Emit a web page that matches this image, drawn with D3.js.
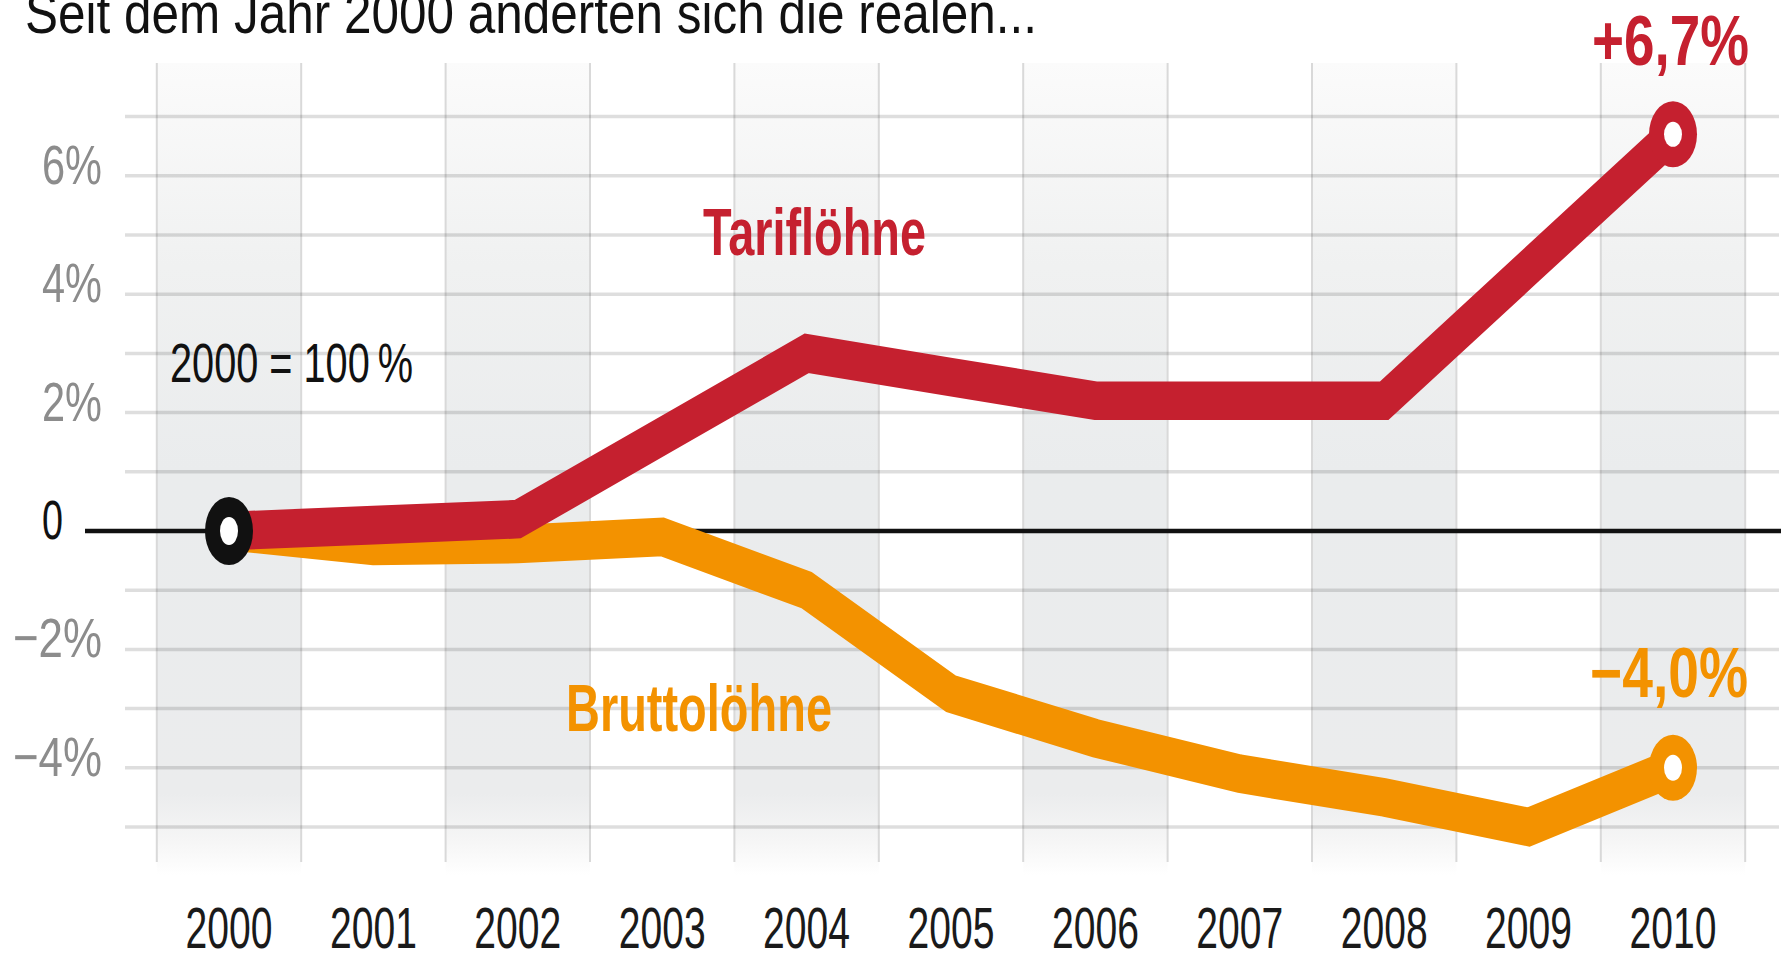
<!DOCTYPE html>
<html>
<head>
<meta charset="utf-8">
<script src="https://cdn.jsdelivr.net/npm/d3@7"></script>
<style>
  html, body { margin: 0; padding: 0; background: #fff; overflow: hidden; }
  svg text { font-family: "Liberation Sans", Arial, sans-serif; }
</style>
</head>
<body>
<div id="chart"></div>
<script>
// --- data ---
const years = [2000, 2001, 2002, 2003, 2004, 2005, 2006, 2007, 2008, 2009, 2010];
const tarifloehne = [0, 0.1, 0.2, 1.6, 3.0, 2.6, 2.2, 2.2, 2.2, 4.45, 6.7];
const bruttoloehne = [0, -0.25, -0.22, -0.1, -1.0, -2.75, -3.5, -4.1, -4.5, -5.0, -4.0];
const gridValues = [-5, -4, -3, -2, -1, 1, 2, 3, 4, 5, 6, 7];
const tickValues = [6, 4, 2, 0, -2, -4];
const tickLabels = ["6%", "4%", "2%", "0", "\u22122%", "\u22124%"];

const W = 1786, H = 956;
const RED = "#c5202f", ORANGE = "#f39200";
const K = 1.38; // the original graphic is stretched vertically

const svg = d3.select("#chart").append("svg")
    .attr("width", W).attr("height", H)
    .attr("viewBox", `0 0 ${W} ${H}`);

const x = d3.scaleLinear().domain([2000, 2010]).range([229, 1673]);
const y = d3.scaleLinear().domain([-5, 7]).range([827, 116.6]);
const step = x(2001) - x(2000);

// column shading gradient
const defs = svg.append("defs");
const grad = defs.append("linearGradient").attr("id", "colGrad")
    .attr("gradientUnits", "userSpaceOnUse")
    .attr("x1", 0).attr("x2", 0).attr("y1", 63).attr("y2", 875);
[[0, "#fbfbfb"], [0.25, "#f0f1f1"], [0.5, "#eaeced"], [0.9, "#ebeced"], [0.96, "#f6f6f6"], [1, "#ffffff"]]
    .forEach(([o, c]) => grad.append("stop").attr("offset", o).attr("stop-color", c));

// shaded columns for even years
svg.append("g").selectAll("rect")
    .data(years.filter(d => d % 2 === 0))
    .join("rect")
    .attr("x", d => x(d) - step / 2)
    .attr("y", 63)
    .attr("width", step)
    .attr("height", 812)
    .attr("fill", "url(#colGrad)");

// vertical column borders
const borders = years.map(d => x(d) - step / 2).concat([x(2010) + step / 2]);
svg.append("g").selectAll("line")
    .data(borders)
    .join("line")
    .attr("x1", d => d).attr("x2", d => d)
    .attr("y1", 63).attr("y2", 862)
    .attr("stroke", "#d9d9d9").attr("stroke-width", 2);

// horizontal gridlines
svg.append("g").selectAll("line")
    .data(gridValues)
    .join("line")
    .attr("x1", 125).attr("x2", 1779)
    .attr("y1", d => y(d)).attr("y2", d => y(d))
    .attr("stroke", "rgba(0,0,0,0.13)").attr("stroke-width", 3.5);

// zero line
svg.append("line")
    .attr("x1", 85).attr("x2", 1781)
    .attr("y1", y(0)).attr("y2", y(0))
    .attr("stroke", "#111").attr("stroke-width", 4.5);

// text helper: condensed look via textLength
function label(s, px, py, size, width, opts = {}) {
    return svg.append("text")
        .attr("x", px).attr("y", py)
        .attr("font-size", size)
        .attr("font-weight", opts.bold ? "bold" : "normal")
        .attr("fill", opts.fill || "#111")
        .attr("text-anchor", opts.anchor || "start")
        .attr("textLength", width)
        .attr("lengthAdjust", "spacingAndGlyphs")
        .text(s);
}

// y tick labels
tickValues.forEach((v, i) => {
    if (v === 0) {
        label(tickLabels[i], 42, y(v) + 8, 56, 21, { fill: "#111" });
    } else {
        const w = v < 0 ? 89 : 60;
        label(tickLabels[i], 102, y(v) + 8, 56, w, { fill: "#8c8c8c", anchor: "end" });
    }
});

// year labels
years.forEach(yr => label(String(yr), x(yr), 948, 58, 87, { fill: "#1a1a1a", anchor: "middle" }));

// lines (drawn in a vertically stretched group like the original)
const lineGen = vals => d3.line()
    .x((d, i) => x(years[i]))
    .y(d => y(d) / K)(vals);

const lg = svg.append("g").attr("transform", `scale(1,${K})`);
lg.append("path")
    .attr("d", lineGen(bruttoloehne))
    .attr("fill", "none").attr("stroke", ORANGE)
    .attr("stroke-width", 28).attr("stroke-linejoin", "miter");
lg.append("path")
    .attr("d", lineGen(tarifloehne))
    .attr("fill", "none").attr("stroke", RED)
    .attr("stroke-width", 28).attr("stroke-linejoin", "miter");

// end markers
function marker(cx, cy, color, rx, ry, irx, iry) {
    svg.append("ellipse").attr("cx", cx).attr("cy", cy)
        .attr("rx", rx).attr("ry", ry).attr("fill", color);
    svg.append("ellipse").attr("cx", cx).attr("cy", cy)
        .attr("rx", irx).attr("ry", iry).attr("fill", "#fff");
}
const last = years.length - 1;
marker(x(years[last]), y(tarifloehne[last]), RED, 24, 33, 9, 12.5);
marker(x(years[last]), y(bruttoloehne[last]), ORANGE, 24, 33, 9, 13);
marker(x(years[0]), y(0), "#111", 24, 34, 9, 14);

// annotations
label("2000 = 100\u2009%", 170, 382, 56, 243, { fill: "#111" });
label("Tariflöhne", 703, 255, 66, 223, { bold: true, fill: RED });
label("Bruttolöhne", 566, 731, 66, 266, { bold: true, fill: ORANGE });
label("+6,7%", 1592, 65, 70, 157, { bold: true, fill: RED });
label("\u22124,0%", 1590, 697, 70, 158, { bold: true, fill: ORANGE });

// title (cut off at the top edge in the original)
label("Seit dem Jahr 2000 änderten sich die realen...", 25, 33, 58, 1012, { fill: "#111" });
</script>
</body>
</html>
